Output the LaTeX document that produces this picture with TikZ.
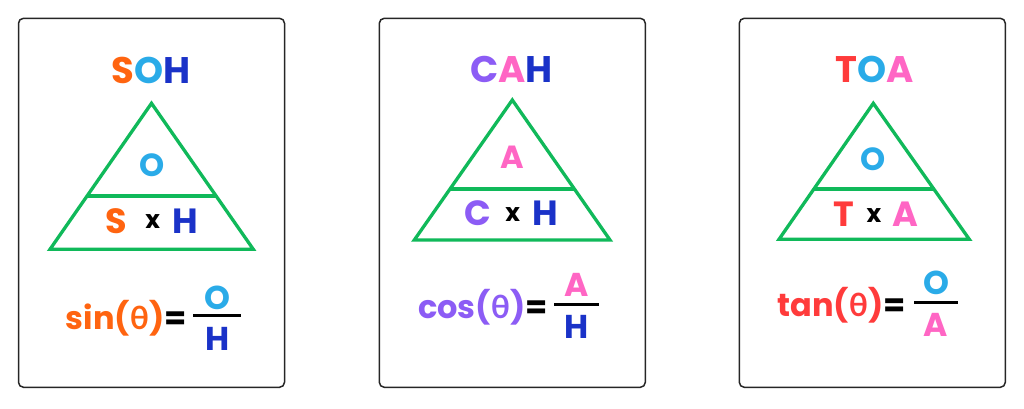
\documentclass[tikz,border=0pt]{standalone}
\usepackage{fontspec}
\setmainfont{Poppins}
\newfontfamily\thetafont{Lato}
\usetikzlibrary{calc}

\definecolor{sinorange}{HTML}{FF6410}
\definecolor{oppblue}{HTML}{2AABE8}
\definecolor{hypblue}{HTML}{1A32C8}
\definecolor{cospurple}{HTML}{8C5CF5}
\definecolor{adjpink}{HTML}{FF66C4}
\definecolor{tanred}{HTML}{FF3B3B}
\definecolor{trigreen}{HTML}{10B95A}

\tikzset{
	card/.style={draw=black!85, line width=1.5pt, rounded corners=5pt, minimum width=266pt, minimum height=369pt, inner sep=0pt},
	tri/.style={draw=trigreen, line width=3.3pt, line join=miter},
	midline/.style={draw=trigreen, line width=4pt},
	head/.style={inner sep=0pt, font=\fontsize{37}{37}\selectfont\bfseries},
	topletter/.style={inner sep=0pt, font=\fontsize{32}{32}\selectfont\bfseries},
	letter/.style={inner sep=0pt, font=\fontsize{35}{35}\selectfont\bfseries},
	times/.style={inner sep=0pt, font=\fontsize{25}{25}\selectfont\bfseries},
	func/.style={inner sep=0pt, anchor=east, font=\fontsize{32}{32}\selectfont\bfseries},
	part/.style={inner sep=0pt, font=\fontsize{33}{33}\selectfont\bfseries},
	fracbar/.style={draw=black, line width=3pt}
}

\begin{document}
\begin{tikzpicture}[x=1pt, y=-1pt]
		\fill [white] (0,0) rectangle (1024,409);
		\useasboundingbox (0,0) rectangle (1024,409);
		% SOH
		\node [card] (sohcard) at (151.5,202.8) {};
		\node [head] (sohhead) at (151,70) {\textcolor{sinorange}{S}\textcolor{oppblue}{O}\textcolor{hypblue}{H}};
		\coordinate (sohtop) at (151.5,103.3);
		\coordinate (sohleft) at (50,249.3);
		\coordinate (sohright) at (253.3,249.3);
		\draw [tri] (sohtop) -- (sohleft) -- (sohright) -- cycle;
		\draw [midline] ($(sohtop)!0.635!(sohleft)$) -- ($(sohtop)!0.635!(sohright)$);
		\node [topletter, text=oppblue] (sohO) at (151.7,165) {O};
		\node [letter, text=sinorange] (sohS) at (116.7,221) {S};
		\node [times] (sohx) at (152.7,221.7) {x};
		\node [letter, text=hypblue] (sohH) at (185,221) {H};
		\node [func] (sohfunc) at (187,318) {\textcolor{sinorange}{sin({\thetafont θ})}=};
		\coordinate (sohbarl) at (193.3,315.5);
		\coordinate (sohbarr) at (241,315.5);
		\draw [fracbar] (sohbarl) -- (sohbarr);
		\node [part, text=oppblue] (sohnum) at (217.2,298) {O};
		\node [part, text=hypblue] (sohden) at (217.2,339) {H};
		% CAH
		\node [card] (cahcard) at (512.3,202.8) {};
		\node [head] (cahhead) at (511.7,69) {\textcolor{cospurple}{C}\textcolor{adjpink}{A}\textcolor{hypblue}{H}};
		\coordinate (cahtop) at (512.3,100);
		\coordinate (cahleft) at (414.3,240);
		\coordinate (cahright) at (610,240);
		\draw [tri] (cahtop) -- (cahleft) -- (cahright) -- cycle;
		\draw [midline] ($(cahtop)!0.636!(cahleft)$) -- ($(cahtop)!0.636!(cahright)$);
		\node [topletter, text=adjpink] (cahA) at (512,157) {A};
		\node [letter, text=cospurple] (cahC) at (478,213.5) {C};
		\node [times] (cahx) at (512.7,215) {x};
		\node [letter, text=hypblue] (cahH) at (545,213.5) {H};
		\node [func] (cahfunc) at (548,307) {\textcolor{cospurple}{cos({\thetafont θ})}=};
		\coordinate (cahbarl) at (554.3,304);
		\coordinate (cahbarr) at (599.3,304);
		\draw [fracbar] (cahbarl) -- (cahbarr);
		\node [part, text=adjpink] (cahnum) at (577,285) {A};
		\node [part, text=hypblue] (cahden) at (577,327) {H};
		% TOA
		\node [card] (toacard) at (872.3,202.8) {};
		\node [head] (toahead) at (874.5,69.7) {\textcolor{tanred}{T}\textcolor{oppblue}{O}\textcolor{adjpink}{A}};
		\coordinate (toatop) at (873.3,103.3);
		\coordinate (toaleft) at (779,239.3);
		\coordinate (toaright) at (969.3,239.3);
		\draw [tri] (toatop) -- (toaleft) -- (toaright) -- cycle;
		\draw [midline] ($(toatop)!0.632!(toaleft)$) -- ($(toatop)!0.632!(toaright)$);
		\node [topletter, text=oppblue] (toaO) at (873,159) {O};
		\node [letter, text=tanred] (toaT) at (844.3,214) {T};
		\node [times] (toax) at (874,215.5) {x};
		\node [letter, text=adjpink] (toaA) at (905,214) {A};
		\node [func] (toafunc) at (906,305) {\textcolor{tanred}{tan({\thetafont θ})}=};
		\coordinate (toabarl) at (914.3,302.7);
		\coordinate (toabarr) at (957.7,302.7);
		\draw [fracbar] (toabarl) -- (toabarr);
		\node [part, text=oppblue] (toanum) at (936,283) {O};
		\node [part, text=adjpink] (toaden) at (936,325) {A};
	\end{tikzpicture}
\end{document}
